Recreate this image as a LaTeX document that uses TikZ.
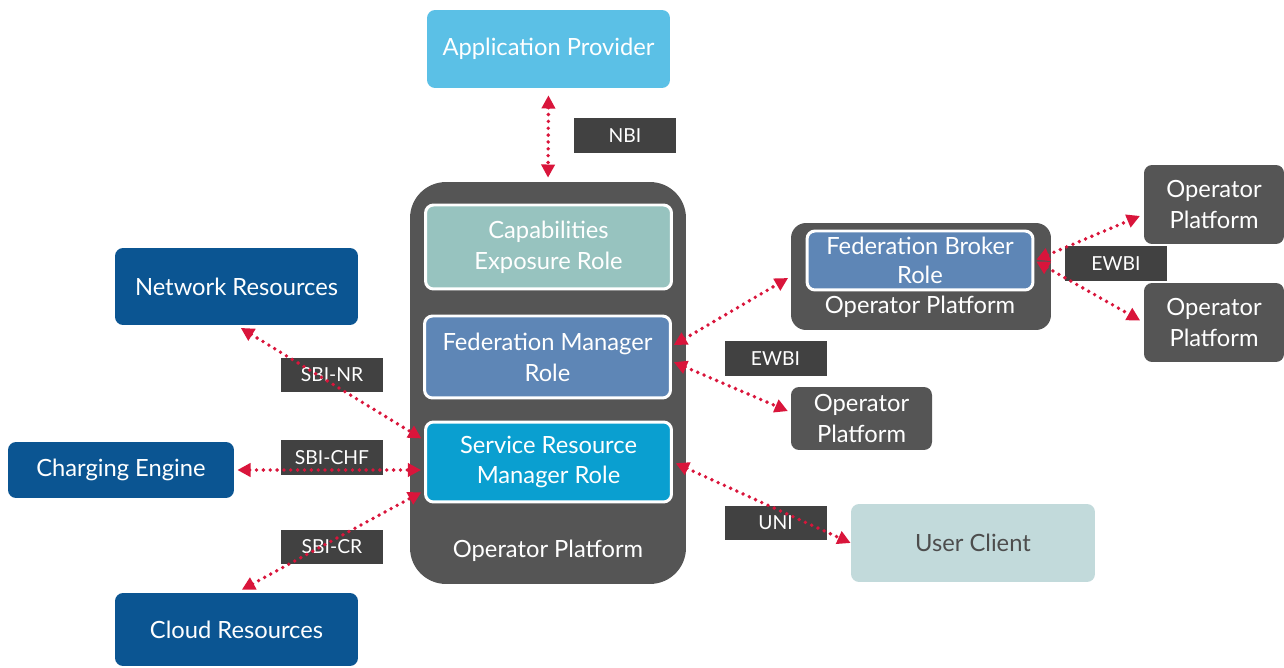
\documentclass[tikz,border=0pt]{standalone}
\usepackage{fontspec}
\setmainfont{Lato}
\usetikzlibrary{arrows.meta}

\definecolor{appBlue}{HTML}{5BC0E6}
\definecolor{opGray}{HTML}{555555}
\definecolor{ifGray}{HTML}{414141}
\definecolor{capTeal}{HTML}{97C3BF}
\definecolor{fedBlue}{HTML}{5E86B6}
\definecolor{srmBlue}{HTML}{0A9FD0}
\definecolor{resBlue}{HTML}{0B5592}
\definecolor{userTeal}{HTML}{C2DADB}
\definecolor{userText}{HTML}{4D4D4D}
\definecolor{linkRed}{HTML}{D9153B}

\begin{document}
\begin{tikzpicture}[x = 0.02cm, y = -0.02cm, font = \fontsize{13.5}{17.5}\selectfont]
	\tikzstyle{boxStyle} = [shape = rectangle, rounded corners = 0.16cm, inner sep = 0pt, align = center, text = white]
	\tikzstyle{roleStyle} = [boxStyle, draw = white, line width = 1.7pt, minimum width = 4.92cm]
	\tikzstyle{platformStyle} = [boxStyle, fill = opGray]
	\tikzstyle{resourceStyle} = [boxStyle, fill = resBlue, minimum width = 4.86cm]
	\tikzstyle{interfaceStyle} = [shape = rectangle, fill = ifGray, text = white, minimum width = 2.04cm, minimum height = 0.69cm, inner sep = 0pt, font = \fontsize{11}{13}\selectfont]
	\tikzstyle{linkStyle} = [draw = linkRed, line width = 2.2pt, dash pattern = on 0pt off 3.9pt, line cap = round, >={Triangle[length = 7.5pt, width = 7.5pt]}, <->]
	\useasboundingbox (0,0) rectangle (1284,668);
	% operator platform with its roles
	\node[boxStyle, fill = appBlue, minimum width = 4.86cm, minimum height = 1.56cm] (ap) at (548.5,49) {Application Provider};
	\node[platformStyle, rounded corners = 0.72cm, minimum width = 5.52cm, minimum height = 8.04cm] (op) at (548,383) {};
	\node[roleStyle, fill = capTeal, minimum height = 1.68cm] (cer) at (548.5,247) {Capabilities\\Exposure Role};
	\node[roleStyle, fill = fedBlue, minimum height = 1.64cm] (fmr) at (547.5,357) {Federation Manager\\Role};
	\node[roleStyle, fill = srmBlue, minimum height = 1.6cm] (srmr) at (548.5,462) {Service Resource\\Manager Role};
	\node[text = white] (optext) at (548,551) {Operator Platform};
	% resources
	\node[resourceStyle, minimum height = 1.54cm] (nr) at (236.5,286.5) {Network Resources};
	\node[resourceStyle, minimum width = 4.52cm, minimum height = 1.12cm] (ce) at (121,470) {Charging Engine};
	\node[resourceStyle, minimum height = 1.46cm] (cr) at (236.5,629.5) {Cloud Resources};
	% federation
	\node[platformStyle, rounded corners = 0.3cm, minimum width = 5.2cm, minimum height = 2.14cm] (fb) at (921,276.5) {};
	\node[roleStyle, fill = fedBlue, minimum width = 4.52cm, minimum height = 1.18cm, font = \fontsize{13.5}{16.5}\selectfont] (fbr) at (920,260.5) {Federation Broker\\Role};
	\node[text = white] (fbtext) at (920,307) {Operator Platform};
	\node[platformStyle, minimum width = 2.82cm, minimum height = 1.26cm] (op2) at (861.5,418.5) {Operator\\Platform};
	\node[platformStyle, minimum width = 2.8cm, minimum height = 1.58cm] (op3) at (1214,204.5) {Operator\\Platform};
	\node[platformStyle, minimum width = 2.8cm, minimum height = 1.58cm] (op4) at (1214,322.5) {Operator\\Platform};
	\node[boxStyle, fill = userTeal, text = userText, minimum width = 4.88cm, minimum height = 1.56cm] (uc) at (973,543) {User Client};
	% interfaces
	\node[interfaceStyle] (nbi) at (625,135.5) {NBI};
	\node[interfaceStyle] (sbinr) at (332,375) {SBI-NR};
	\node[interfaceStyle] (sbichf) at (332,457.5) {SBI-CHF};
	\node[interfaceStyle] (sbicr) at (332,547) {SBI-CR};
	\node[interfaceStyle] (ewbia) at (775.5,358.5) {EWBI};
	\node[interfaceStyle] (ewbib) at (1116,263.5) {EWBI};
	\node[interfaceStyle] (uni) at (775.5,523) {UNI};
	% links
	\draw[linkStyle, shorten <= 0.14cm, shorten >= 0.08cm] (ap.south) -- (op.north);
	\draw[linkStyle, shorten <= 0.1cm, shorten >= 0.06cm] (nr.south) -- (srmr.170);
	\draw[linkStyle, shorten <= 0.06cm, shorten >= 0.06cm] (ce.east) -- (ce.east -| srmr.west);
	\draw[linkStyle, shorten <= 0.12cm, shorten >= 0.06cm] (cr.north) -- (srmr.193);
	\draw[linkStyle, shorten <= 0.04cm, shorten >= 0.06cm] (fmr.5) -- (fb.west);
	\draw[linkStyle, shorten <= 0.04cm, shorten >= 0.06cm] (fmr.-2) -- (op2.175);
	\draw[linkStyle, shorten <= 0.04cm, shorten >= 0.08cm] (fbr.east) -- (op3.188);
	\draw[linkStyle, shorten <= 0.04cm, shorten >= 0.08cm] (fbr.east) -- (op4.west);
	\draw[linkStyle, shorten <= 0.06cm, shorten >= 0.0cm] (srmr.east) -- (uc.west);
\end{tikzpicture}
\end{document}
